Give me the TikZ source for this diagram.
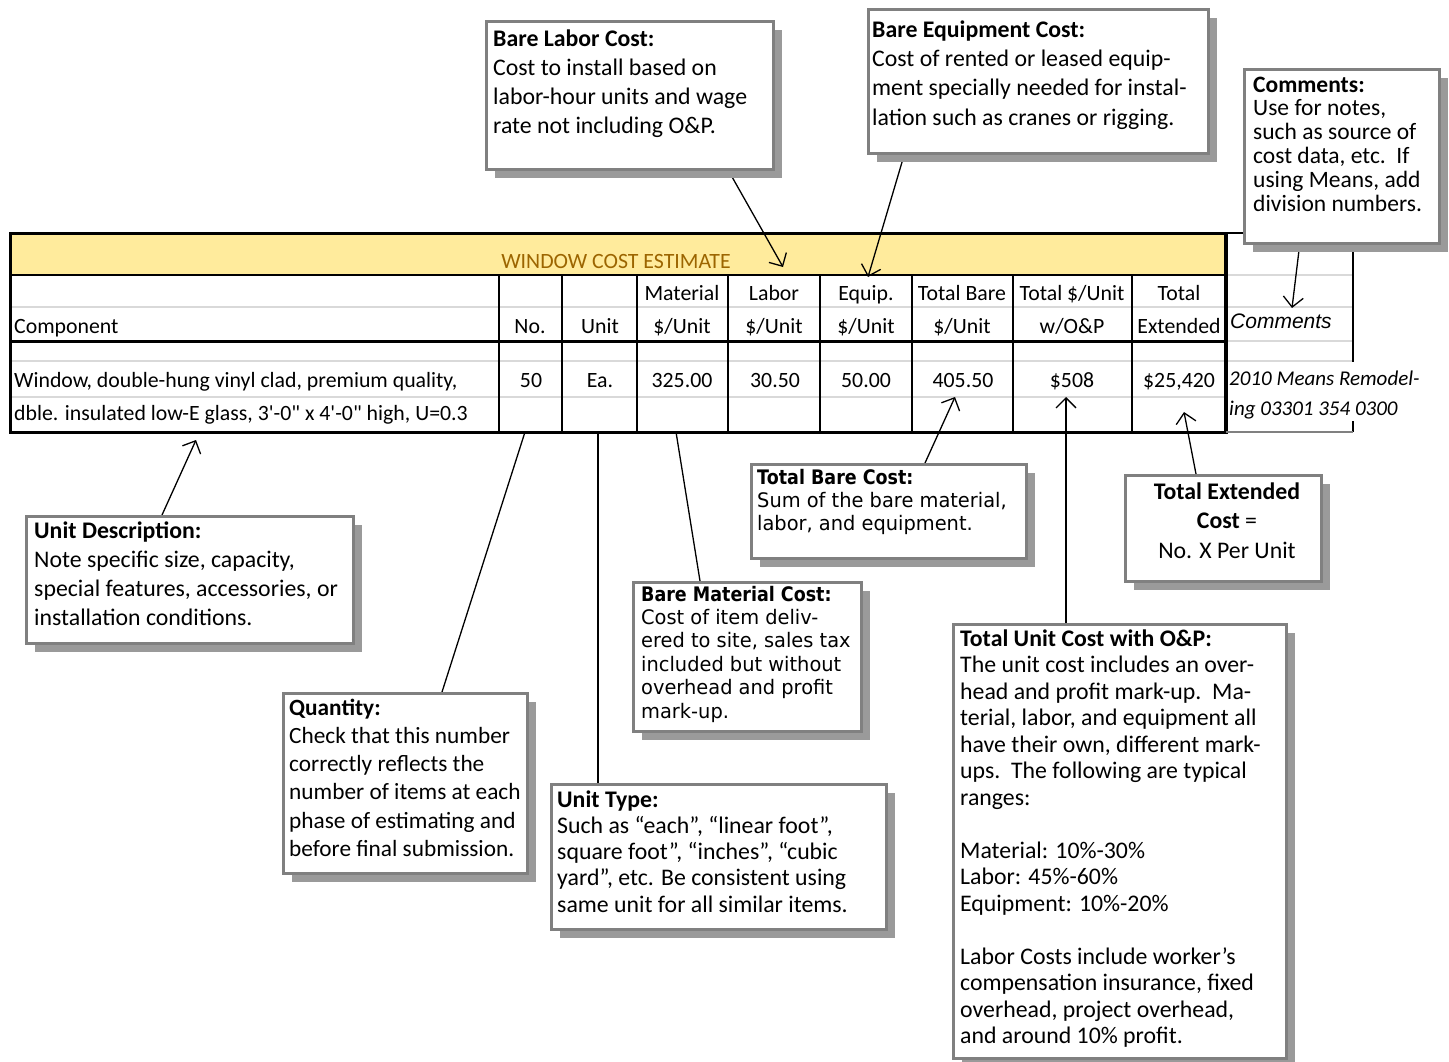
\documentclass[tikz,border=0pt]{standalone}
\usepackage{fontspec}
\setmainfont{Carlito}
\newfontfamily\noligf{Carlito}[Ligatures=TeXOff]
\newfontfamily\tahomaf{DejaVu Sans}[FakeStretch=0.97, BoldFeatures={FakeStretch=0.875}]
\newfontfamily\arialf{Liberation Sans}
\usetikzlibrary{arrows.meta,shadows}
\definecolor{hdrfill}{HTML}{FFEB9C}
\definecolor{hdrtext}{HTML}{9C6500}
\definecolor{boxline}{HTML}{808080}
\definecolor{shadowc}{HTML}{9A9A9A}
\definecolor{gridc}{HTML}{D9D9D9}
\newcommand\setfs[2]{\fontsize{#1}{#2}\selectfont}
\tikzset{
  notebox/.style={draw=boxline, line width=3pt, fill=white, anchor=north west, inner sep=0pt,
    drop shadow={shadow xshift=8pt, shadow yshift=-8pt, fill=shadowc, opacity=1}},
  notetext/.style={anchor=north west, align=left, inner sep=0pt},
  conn/.style={line width=1.3pt, -{Straight Barb[length=10pt,width=20pt]}},
  plainconn/.style={line width=1.3pt},
  gridl/.style={draw=gridc, line width=2.2pt},
  tline/.style={draw=black, line width=2pt},
  tthick/.style={draw=black, line width=3pt},
  cell/.style={anchor=base, inner sep=0pt, font=\setfs{21.8}{26}},
}
\begin{document}
\begin{tikzpicture}[x=1pt,y=-1pt]
\fill[white] (0,0) rectangle (1449,1061);
\useasboundingbox (0,0) rectangle (1449,1061);

% ---------- table ----------
\fill[hdrfill] (10,233) rectangle (1226,275);
\draw[gridl] (10,307) -- (1353,307);
\draw[gridl] (10,361) -- (1353,361);
\draw[gridl] (10,397) -- (1226,397);
\draw[gridl] (1226,275) -- (1353,275);
\draw[gridl] (1226,341) -- (1353,341);
\draw[tline] (10,275) -- (1226,275);
\draw[tthick] (10,341) -- (1226,341);
\foreach \cx in {499,562,637,728,820,912,1013,1132}
  \draw[tline] (\cx,275) -- (\cx,432);
\draw[tthick] (10,233) rectangle (1226,432);
\draw[line width=4.5pt] (1226,233) -- (1226,432);
\draw[tline] (1226,233) -- (1250,233);
\draw[line width=1.8pt] (1353,240) -- (1353,432);
\draw[line width=1.5pt, draw=gray] (1226,432) -- (1353,432);

\node[cell, text=hdrtext] (title) at (616,268) {WINDOW COST ESTIMATE};
% header row 1
\node[cell] (h1a) at (682,300) {Material};
\node[cell] (h1b) at (774,300) {Labor};
\node[cell] (h1c) at (866,300) {Equip.};
\node[cell] (h1d) at (962,300) {Total Bare};
\node[cell] (h1e) at (1072,300) {Total \$/Unit};
\node[cell] (h1f) at (1179,300) {Total};
% header row 2
\node[cell, anchor=base west] (h2comp) at (14,333) {Component};
\node[cell] (h2a) at (530,333) {No.};
\node[cell] (h2b) at (600,333) {Unit};
\node[cell] (h2c) at (682,333) {\$/Unit};
\node[cell] (h2d) at (774,333) {\$/Unit};
\node[cell] (h2e) at (866,333) {\$/Unit};
\node[cell] (h2f) at (962,333) {\$/Unit};
\node[cell] (h2g) at (1072,333) {w/O\&P};
\node[cell] (h2h) at (1179,333) {Extended};
\node[anchor=base west, inner sep=0pt, font=\arialf\itshape\fontsize{21}{25}\selectfont] (h2comm) at (1230,328) {Comments};
% data
\node[cell, anchor=base west] (d1) at (14,387) {Window, double-hung vinyl clad, premium quality,};
\node[cell, anchor=base west] (d2) at (14,420) {\noligf dble. insulated low-E glass, 3'-0" x 4'-0" high, U=0.3};
\node[cell] (dno) at (531,387) {50};
\node[cell] (dunit) at (600,387) {Ea.};
\node[cell] (dmat) at (682,387) {325.00};
\node[cell] (dlab) at (775,387) {30.50};
\node[cell] (deq) at (866,387) {50.00};
\node[cell] (dtb) at (963,387) {405.50};
\node[cell] (dop) at (1072,387) {\$508};
\node[cell] (dext) at (1179,387) {\$25,420};
\node[anchor=north west, align=left, fill=white, inner xsep=1pt, inner ysep=2pt,
  font=\itshape\setfs{21}{30}] (dcomm) at (1228,362) {\strut 2010 Means Remodel-\\ing 03301 354 0300};

% ---------- connector ends ----------
\coordinate (laborS) at (727,168);  \coordinate (laborE) at (783,267);
\coordinate (equipS) at (905,152);  \coordinate (equipE) at (868,277);
\coordinate (commS) at (1300,242);  \coordinate (commE) at (1292,308);
\coordinate (descS) at (162,515);   \coordinate (descE) at (196,440);
\coordinate (qtyS) at (442,692);    \coordinate (qtyE) at (525,432);
\coordinate (utS) at (598,783);     \coordinate (utE) at (598,432);
\coordinate (matS) at (700,581);    \coordinate (matE) at (676,432);
\coordinate (tbS) at (925,463);     \coordinate (tbE) at (955,397);
\coordinate (opS) at (1066,623);    \coordinate (opE) at (1066,397);
\coordinate (extS) at (1196,474);   \coordinate (extE) at (1184,412);

\draw[conn] (laborS) -- (laborE);
\draw[conn] (equipS) -- (equipE);
\draw[conn] (commS) -- (commE);
\draw[conn] (descS) -- (descE);
\draw[plainconn] (qtyS) -- (qtyE);
\draw[plainconn] (utS) -- (utE);
\draw[plainconn] (matS) -- (matE);
\draw[conn] (tbS) -- (tbE);
\draw[conn] (opS) -- (opE);
\draw[conn] (extS) -- (extE);

% ---------- note boxes ----------
\node[notebox, minimum width=287pt, minimum height=148pt] (labor) at (485,20) {};
\node[notetext, font=\setfs{23.8}{29}] (laborT) at (493,26.2) {\strut\textbf{Bare Labor Cost:}\\Cost to install based on\\labor-hour units and wage\\rate not including O\&P.};

\node[notebox, minimum width=340pt, minimum height=144pt] (equip) at (867,8) {};
\node[notetext, font=\setfs{23.8}{29.3}] (equipT) at (872,16.5) {\strut\textbf{Bare Equipment Cost:}\\Cost of rented or leased equip-\\ment specially needed for instal-\\lation such as cranes or rigging.};

\node[notebox, minimum width=195pt, minimum height=174pt] (comm) at (1243,68) {};
\node[notetext, font=\setfs{23.5}{23.8}] (commT) at (1253,75.3) {\strut\textbf{Comments:}\\Use for notes,\\such as source of\\cost data, etc.\ \ If\\using Means, add\\division numbers.};

\node[notebox, minimum width=327pt, minimum height=127pt] (desc) at (25,515) {};
\node[notetext, font=\setfs{23.8}{29}] (descT) at (34,517.7) {\strut\textbf{Unit Description:}\\Note specific size, capacity,\\special features, accessories, or\\installation conditions.};

\node[notebox, minimum width=244pt, minimum height=180pt] (qty) at (282,692) {};
\node[notetext, font=\setfs{23.3}{28.2}] (qtyT) at (289,695.3) {\strut\textbf{Quantity:}\\Check that this number\\correctly reflects the\\number of items at each\\phase of estimating and\\before final submission.};

\node[notebox, minimum width=335pt, minimum height=145pt] (ut) at (550,783) {};
\node[notetext, font=\setfs{23.8}{26.25}] (utT) at (557,788.6) {\strut\textbf{Unit Type:}\\Such as “each”, “linear foot”,\\square foot”, “inches”, “cubic\\yard”, etc. Be consistent using\\same unit for all similar items.};

\node[notebox, minimum width=228pt, minimum height=149pt] (mat) at (632,581) {};
\node[notetext, font=\tahomaf\setfs{20}{23.4}] (matT) at (641,584.6) {\strut\textbf{Bare Material Cost:}\\Cost of item deliv-\\ered to site, sales tax\\included but without\\overhead and profit\\mark-up.};

\node[notebox, minimum width=275pt, minimum height=94pt] (tb) at (750,463) {};
\node[notetext, font=\tahomaf\setfs{20}{23}] (tbT) at (757,467.9) {\strut\textbf{Total Bare Cost:}\\Sum of the bare material,\\labor, and equipment.};

\node[notebox, minimum width=333pt, minimum height=434pt] (op) at (952,623) {};
\node[notetext, font=\setfs{23.8}{26.5}] (opT) at (960,627.5) {\strut\textbf{Total Unit Cost with O\&P:}\\The unit cost includes an over-\\head and profit mark-up.\ \ Ma-\\terial, labor, and equipment all\\have their own, different mark-\\ups.\ \ The following are typical\\ranges:\\[26.5pt]Material: 10\%-30\%\\Labor: 45\%-60\%\\Equipment: 10\%-20\%\\[26.5pt]Labor Costs include worker’s\\compensation insurance, fixed\\overhead, project overhead,\\and around 10\% profit.};

\node[notebox, minimum width=196pt, minimum height=106pt] (ext) at (1124,474) {};
\node[anchor=north, align=center, inner sep=0pt, font=\setfs{23.8}{29.5}] (extT) at (1227,478.4) {\strut\textbf{Total Extended}\\\textbf{Cost} =\\No. X Per Unit};
\end{tikzpicture}
\end{document}
